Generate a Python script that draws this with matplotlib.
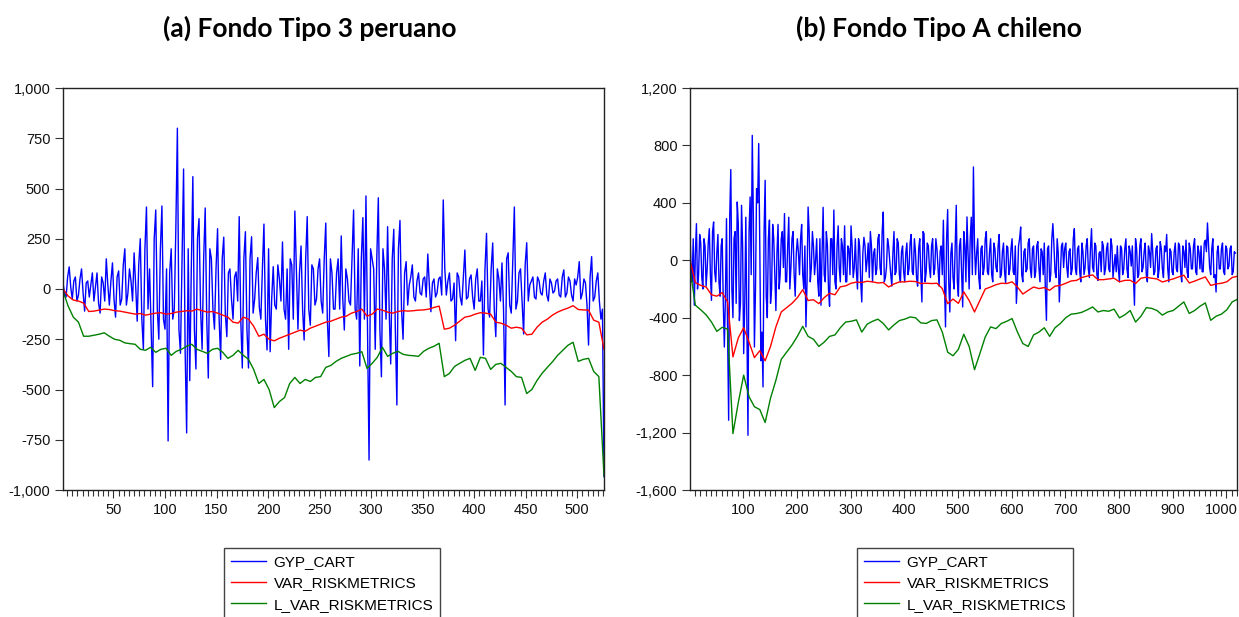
import numpy as np
import matplotlib
matplotlib.use("Agg")
import matplotlib.pyplot as plt
from matplotlib.ticker import MultipleLocator, FuncFormatter
from matplotlib.transforms import ScaledTranslation

# ---------------- Panel (a): Fondo Tipo 3 peruano ----------------
title_a = "(a) Fondo Tipo 3 peruano"
step_gyp_a = 1.5
# observations 1, 4, 7, ...
gyp_a_main = [30, -40, 110, -50, 60, -30, 100, -110, 40, 20, -60, 80, -120, 30, 150, -80, 130, -140, 90, -50,
              200, -20, 40, 180, -160, 250, -300, 408, 100, -486, 393, -250, 413, -200, -756, 200, -100, 800, -320, 597,
              -716, -456, 559, -398, 350, -300, 403, -443, 150, -200, 300, -350, 258, -237, 100, -150, 85, 360, -393, 285,
              -393, 260, -50, 156, -150, 323, -303, -312, 111, -100, 50, 234, -150, -300, 120, 388, -200, 214, -254, 360,
              -180, 100, -50, 150, -120, 328, -336, 80, -100, 150, 264, -204, 50, -80, 393, -150, -383, 355, 463, -851,
              150, -300, 454, -437, 100, 310, -373, 297, -577, 341, -250, 136, 20, 120, -60, 80, -30, 60, 174, -113,
              50, -20, 60, 443, -30, 80, -50, -257, 60, -80, 194, -40, 70, -100, 100, -60, -328, 277, -140, 229,
              -237, 50, 130, -577, 180, -120, 408, -60, 100, -224, 230, 20, 60, -50, 40, -30, 80, -60, 30, -10,
              50, -40, 95, -20, 40, -60, 20, 136, -20, 30, -279, 161, -40, 80, -150, -934]
# in-between observations
gyp_a_mid = [-20, 60, 10, 40, -60, 50, -20, 30, -40, 80, 10, -70, 60, -60, 20, 40, -50, 60, -80, 120,
             -80, 100, -60, 20, 120, -150, 200, -100, -200, 250, -100, 200, -150, 100, 80, -150, 300, -200, 150, -300,
             200, 100, -200, 250, -100, 150, -150, 200, -100, 100, -150, 150, -120, 80, -50, 60, -60, -150, 150, -200,
             150, -120, 80, -90, 100, -150, 200, -50, -80, 120, -60, -100, 100, 150, -150, 100, 80, -100, 150, -100,
             120, -80, 100, -60, 150, -150, 150, -100, 80, -100, -50, 100, -60, 150, -100, 200, 150, -150, -200, 200,
             100, 150, -200, 200, -150, -100, 150, -200, 200, -100, 80, -80, 60, -40, 40, -20, 50, -40, 20, 30,
             -40, 50, -30, 100, 40, -60, 30, 80, -40, 60, -50, 50, -40, 50, -60, 40, 100, -100, 100, -100,
             100, -60, -100, 150, -80, 150, -100, 80, -60, 120, -60, 40, -40, 60, -20, 40, -30, 50, -20, 40,
             -30, 60, -40, 60, -30, 50, 60, -50, 50, -80, 60, -60, 40, -60, -100]
step_var_a = 5
var_a = [0, -35, -55, -60, -70, -112, -110, -105, -100, -102, -108, -110, -115, -120, -125, -122, -130, -125, -120, -118,
         -125, -122, -115, -112, -108, -110, -100, -108, -115, -112, -120, -130, -140, -165, -170, -140, -150, -185, -235, -225,
         -250, -258, -245, -235, -225, -215, -205, -210, -195, -185, -175, -165, -160, -150, -140, -135, -120, -112, -100, -135,
         -125, -100, -105, -115, -120, -112, -108, -110, -108, -105, -104, -100, -92, -85, -200, -195, -180, -160, -140, -135,
         -125, -118, -120, -125, -165, -170, -180, -195, -190, -195, -228, -225, -190, -165, -150, -130, -115, -104, -95, -83,
         -102, -104, -105, -155, -165, -300]
lvar_a = [-10, -85, -140, -165, -235, -235, -230, -225, -218, -235, -250, -255, -268, -272, -275, -300, -305, -290, -315, -300,
          -295, -330, -310, -300, -285, -275, -300, -310, -320, -300, -295, -315, -345, -330, -305, -330, -350, -400, -470, -450,
          -500, -590, -560, -540, -470, -440, -470, -450, -460, -440, -436, -390, -380, -360, -345, -335, -325, -320, -312, -395,
          -370, -340, -290, -335, -320, -310, -325, -330, -332, -335, -310, -295, -285, -270, -436, -420, -385, -370, -355, -345,
          -405, -340, -345, -400, -375, -370, -390, -410, -436, -440, -520, -500, -455, -419, -390, -362, -330, -305, -280, -265,
          -360, -350, -345, -410, -436, -930]
xlim_a = (1, 526)
yticks_a = [-1000, -750, -500, -250, 0, 250, 500, 750, 1000]
xticks_a = [50, 100, 150, 200, 250, 300, 350, 400, 450, 500]

# ---------------- Panel (b): Fondo Tipo A chileno ----------------
title_b = "(b) Fondo Tipo A chileno"
step_gyp_b = 2
# observations 1, 5, 9, ...
gyp_b_main = [200, -150, -313, 255, -100, 120, -200, 100, -60, 220, -279, 267, -150, 180, -250, 150, -604, 290, -1114, 632,
              -400, 200, 406, -420, 383,
              -650, 300, -1219, 441, 870, -604, 499, 813, -700, -882, 557, -400, 280, -200, 150, -350, 250, -100, 200, 325,
              -150, 300, -50, 200, -250,
              150, -100, 250, -200, -464, 371, -150, 200, -100, 150, -250, -313, 369, -150, 100, -320, 150, 350, -200, 240,
              -150, 100, 240, -150, 80,
              240, -120, 150, -200, 100, -290, 160, -80, 120, 200, -150, 80, -60, 180, -100, 336, -120, 150, 0, -180,
              200, -80, 120, -150, 100,
              -150, 120, -60, 180, -100, 60, -180, 150, -290, 186, -80, 100, -120, 150, -60, 80, -180, 100, 279, -464,
              353, -360, 120, -200, 383,
              -250, 150, -325, 100, 302, -200, 300, 650, -100, 150, -200, 100, -50, 200, -100, 150, -150, 80, -80, 180,
              -100, 120, -160, 90, -60,
              150, -100, -300, 100, 232, -150, 80, -60, 150, -120, 100, -80, 130, -150, 60, 120, -418, 100, -100, 255,
              -80, 150, -290, 100, -50,
              120, -120, 80, -60, 220, -100, 100, -150, 60, -50, 150, -120, 220, -80, 100, -140, 60, 130, -100, 80,
              -60, 150, -120, 40, 100,
              -150, 80, -60, 150, -120, 60, 100, -313, 80, -100, 150, -50, 120, -150, 60, 186, -100, 80, -120, 130,
              -60, 100, 180, -150, 60,
              -100, 120, -80, 100, -150, 60, 140, -120, 80, -60, 150, -100, 60, 100, -80, 140, 260, -50, 80, -120,
              -221, 100, -60, 120, -100, 80, -40, 100, -80, 50]
# observations 3, 7, 11, ...
gyp_b_mid = [-80, 150, 50, -200, 180, -120, 150, -180, 120, -100, 200, -80, 50, -150, 100, -300, -250, -500, 300, -200,
             150, -300, 250, -300, 100,
             -300, -500, 200, -100, 300, -200, 400, 100, -500, 200, -250, 150, -300, 250, -100, 50, -200, 150, -50, -150,
             100, -200, 150, -100, 50,
             50, 150, -100, 100, -150, 200, -50, 100, 0, -150, 150, 50, -100, 200, -200, 150, -100, -150, 100, -50,
             150, -100, -150, 100, -100,
             100, -50, -80, 150, -150, 50, 100, 0, -120, 100, 50, -100, 150, -50, 200, -150, -50, 100, -100, 50,
             -100, 150, -100, 60, -80,
             50, -100, 120, -80, 150, -120, 80, -100, 200, -150, 120, -50, 100, -100, 150, -50, 60, -100, -150, 150,
             -150, 50, -120, 100, -150,
             100, -100, 200, -150, 50, 150, -100, 100, 50, -120, 80, -100, 150, -80, 60, -100, 120, -50, 100, -120,
             60, -80, 100, -100, 80,
             -80, 100, -150, 150, -100, 60, -80, 120, -60, 80, -120, 100, -50, 80, -100, -200, 80, -150, 150, 100,
             -120, 50, -100, 120, 80,
             -50, 60, -100, 150, -60, 80, -80, 120, -100, 100, -60, 80, -50, 120, -100, 50, -80, 100, -60, 120,
             -80, 100, -40, -80, -60,
             100, -100, 80, -60, 100, -40, -100, 150, -120, 100, -80, 60, -100, 100, -50, 60, -80, 100, -60, 80,
             -120, 60, -60, 80, -80,
             60, -60, 120, -80, 100, -50, -80, 120, -60, 100, -80, 100, -60, -80, 120, 60, 100, -100, 150, -100,
             60, -60, 80, -80, 100, -60, 80, -100, 60]
step_var_b = 10
var_b = [0, -155, -175, -186, -240, -250, -225, -290, -673, -540, -470, -570, -678, -630, -700, -600, -464, -360, -330, -300,
         -260, -205, -280, -275, -302, -260, -230, -240, -185, -178, -160, -152, -155, -146, -150, -158, -155, -186, -165, -151,
         -150, -146, -148, -162, -160, -162, -160, -197, -302, -270, -300, -220, -280, -360, -280, -200, -186, -170, -160, -162,
         -150, -186, -235, -210, -186, -197, -190, -209, -180, -175, -160, -144, -140, -120, -110, -102, -135, -135, -130, -125,
         -150, -140, -139, -162, -125, -118, -125, -130, -151, -140, -130, -116, -104, -158, -145, -130, -116, -175, -165, -160,
         -150, -120, -111]
lvar_b = [-60, -313, -345, -380, -430, -495, -467, -480, -1207, -990, -800, -950, -1020, -1040, -1130, -960, -836, -690, -640, -590,
          -530, -460, -530, -550, -600, -570, -530, -520, -470, -430, -425, -415, -500, -445, -425, -410, -440, -485, -450, -420,
          -410, -395, -400, -436, -440, -420, -415, -500, -640, -665, -620, -515, -600, -762, -650, -534, -464, -476, -440, -425,
          -406, -500, -580, -600, -520, -500, -470, -530, -470, -440, -400, -375, -371, -362, -345, -325, -360, -350, -355, -340,
          -401, -380, -350, -430, -390, -330, -335, -350, -382, -360, -350, -320, -290, -370, -350, -320, -297, -418, -390, -375,
          -345, -290, -271]
xlim_b = (1, 1020)
yticks_b = [-1600, -1200, -800, -400, 0, 400, 800, 1200]
xticks_b = [100, 200, 300, 400, 500, 600, 700, 800, 900, 1000]

series_names = ["GYP_CART", "VAR_RISKMETRICS", "L_VAR_RISKMETRICS"]
series_colors = ["#0000ff", "#ff0000", "#008000"]


def interleave(main, mid):
    out = np.empty(len(main) + len(mid))
    out[0::2] = main
    out[1::2] = mid
    return out


gyp_a = interleave(gyp_a_main, gyp_a_mid)
gyp_b = interleave(gyp_b_main, gyp_b_mid)

W, H = 1239, 617
fig = plt.figure(figsize=(W / 100, H / 100), dpi=100)
plt.rcParams['font.family'] = ['Liberation Sans', 'DejaVu Sans']


def fmt(v, pos):
    return f"{int(v):,}"


def make_panel(rect, title, title_x, gyp, sg, var, lvar, sv, xlim, yticks, xticks, xminor, leg_xy):
    ax = fig.add_axes([rect[0] / W, 1 - rect[3] / H, (rect[2] - rect[0]) / W, (rect[3] - rect[1]) / H])
    xg = 1 + sg * np.arange(len(gyp))
    xv = 1 + sv * np.arange(len(var))
    xl = 1 + sv * np.arange(len(lvar))
    h1, = ax.plot(xg, gyp, color=series_colors[0], lw=1.0, label=series_names[0])
    h2, = ax.plot(xv, var, color=series_colors[1], lw=1.0, label=series_names[1])
    h3, = ax.plot(xl, lvar, color=series_colors[2], lw=1.0, label=series_names[2])
    ax.set_xlim(*xlim)
    ax.set_ylim(yticks[0], yticks[-1])
    ax.set_yticks(yticks)
    ax.yaxis.set_major_formatter(FuncFormatter(fmt))
    ax.set_xticks(xticks)
    ax.xaxis.set_minor_locator(MultipleLocator(xminor))
    ax.tick_params(axis='both', which='major', labelsize=10.5, direction='out', length=6, width=0.8,
                   color='#333333', labelcolor='#111111', pad=3)
    ax.tick_params(axis='x', which='minor', direction='out', length=4, width=0.8, color='#333333')
    ax.tick_params(top=False, right=False)
    for s in ax.spines.values():
        s.set_color('#222222')
        s.set_linewidth(1.0)
    fig.text(title_x / W, 1 - 28 / H, title, ha='center', va='center', fontsize=19,
             fontweight='bold', family=['Lato', 'DejaVu Sans'])
    leg = fig.legend([h1, h2, h3], series_names, loc='upper left',
                     bbox_to_anchor=(leg_xy[0] / W, 1 - leg_xy[1] / H), bbox_transform=fig.transFigure,
                     fontsize=11, frameon=True, fancybox=False, framealpha=1, edgecolor='#444444',
                     handlelength=2.3, handletextpad=0.5, labelspacing=0.48, borderpad=0.45, borderaxespad=0)
    leg.get_frame().set_linewidth(1.0)
    return ax


make_panel((63, 88, 604, 490), title_a, 310, gyp_a, step_gyp_a, var_a, lvar_a, step_var_a,
           xlim_a, yticks_a, xticks_a, 5, (224, 548))
ax_b = make_panel((690, 88, 1237, 490), title_b, 939, gyp_b, step_gyp_b, var_b, lvar_b, step_var_b,
                  xlim_b, yticks_b, xticks_b, 10, (857, 548))

# keep the last x label of panel (b) inside the figure, as in the reference
last = ax_b.xaxis.get_major_ticks()[-1].label1
last.set_transform(last.get_transform() + ScaledTranslation(-5 / 100, 0, fig.dpi_scale_trans))

fig.savefig("out.png", dpi=100)
